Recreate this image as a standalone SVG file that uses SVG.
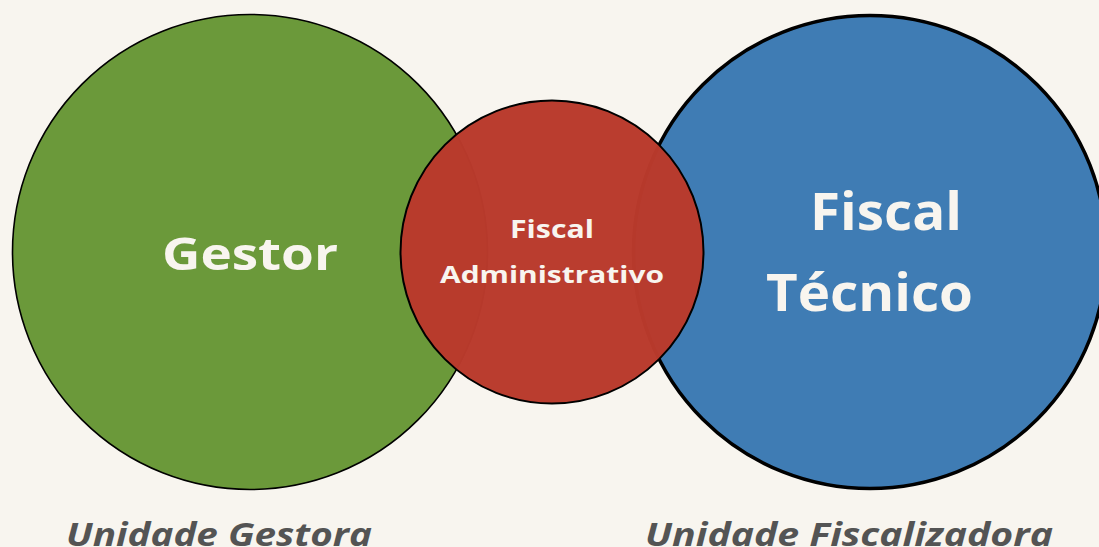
<svg xmlns="http://www.w3.org/2000/svg" width="1099" height="547" viewBox="0 0 1099 547">
  <style>
    .label { font-family: "Open Sans", "Liberation Sans", sans-serif; font-weight: 700; fill: #f8f5ef; text-anchor: middle; }
    .caption { font-family: "Open Sans", "Liberation Sans", sans-serif; font-weight: 700; font-style: italic; fill: #545454; }
  </style>
  <rect width="1099" height="547" fill="#f8f5ef"/>

  <g id="gestor">
    <circle cx="250" cy="252" r="237.5" fill="#6b993a" stroke="#000" stroke-width="1.6"/>
    <text class="label" x="250" y="270" font-size="44" textLength="176" lengthAdjust="spacingAndGlyphs">Gestor</text>
  </g>

  <g id="fiscal-tecnico">
    <circle cx="870" cy="252" r="236.5" fill="#3f7cb4" stroke="#000" stroke-width="3.5"/>
    <text class="label" x="886" y="230" font-size="52" textLength="152" lengthAdjust="spacingAndGlyphs">Fiscal</text>
    <text class="label" x="869.5" y="311" font-size="52" textLength="207" lengthAdjust="spacingAndGlyphs">Técnico</text>
  </g>

  <g id="fiscal-administrativo">
    <circle cx="552" cy="252" r="151.5" fill="#b93a2c" fill-opacity="0.985" stroke="#000" stroke-width="2"/>
    <text class="label" x="552" y="238" font-size="25" textLength="84" lengthAdjust="spacingAndGlyphs">Fiscal</text>
    <text class="label" x="552" y="283" font-size="24" textLength="224" lengthAdjust="spacingAndGlyphs">Administrativo</text>
  </g>

  <g id="captions">
    <text class="caption" x="66" y="546" font-size="32" textLength="306" lengthAdjust="spacingAndGlyphs">Unidade Gestora</text>
    <text class="caption" x="645" y="546" font-size="32" textLength="408" lengthAdjust="spacingAndGlyphs">Unidade Fiscalizadora</text>
  </g>
</svg>
